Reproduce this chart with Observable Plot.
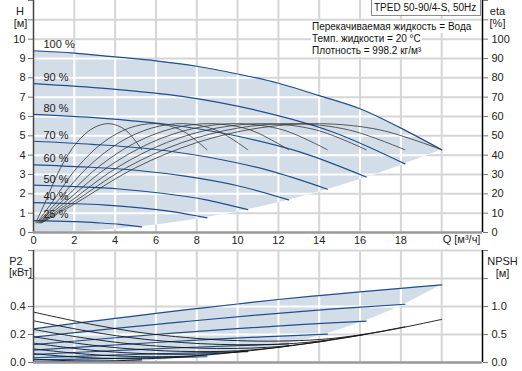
<!DOCTYPE html>
<html><head><meta charset="utf-8">
<script src="https://cdn.jsdelivr.net/npm/d3@7"></script>
<script src="https://cdn.jsdelivr.net/npm/@observablehq/plot@0.6"></script>
<style>
body{margin:0;background:#fff;font-family:'Liberation Sans',Arial,sans-serif;}
#wrap{position:relative;width:522px;height:371px;overflow:hidden;background:#fff}
#top,#bot{position:absolute;left:0;}
#top{top:0}#bot{top:248px}
.box{position:absolute;left:371px;top:-1px;width:110px;height:17px;border:1px solid #8c8c8c;background:#fff;font-size:10px;line-height:16px;color:#111;padding-left:2px;box-sizing:border-box;white-space:nowrap;overflow:hidden}
.info{position:absolute;left:311px;top:21px;font-size:10px;line-height:12px;color:#111}
.info div{background:#fff;display:table;padding:0 1px;white-space:nowrap}
</style></head><body>
<div id="wrap">
<div id="top"></div><div id="bot"></div>
<div class="box">TPED 50-90/4-S, 50Hz</div>
<div class="info"><div>Перекачиваемая жидкость = Вода</div><div>Темп. жидкости = 20 °C</div><div>Плотность = 998.2 кг/м³</div></div>
</div>
<script>
// ---- data ----
const speeds = ["100 %","90 %","80 %","70 %","60 %","50 %","40 %","25 %"];
const qTicks = [0,2,4,6,8,10,12,14,16,18];
const qGrid = [2,4,6,8,10,12,14,16,18,20];
const hTicks = [0,1,2,3,4,5,6,7,8,9,10,11,12];
const hGrid = [1,2,3,4,5,6,7,8,9,10,11];
const pTicks = [0,0.2,0.4,0.6,0.8];
const pGrid = [0.2,0.4,0.6,0.8];

// head curves H [m] per speed
const headQ = [
 [0,2,4,6,8,10,12,14,16,18,20],
 [0,3.64,7.28,10.92,14.56,18.2],
 [0,3.26,6.52,9.78,13.04,16.3],
 [0,2.88,5.76,8.64,11.52,14.4],
 [0,2.5,5,7.5,10,12.5],
 [0,2.1,4.2,6.3,8.4,10.5],
 [0,1.7,3.4,5.1,6.8,8.5],
 [0,1.06,2.12,3.18,4.24,5.3]
];
const headH = [
 [9.4,9.28,9.08,8.88,8.6,8.2,7.72,7.08,6.4,5.4,4.28],
 [7.7,7.44,7.04,6.32,5.24,3.55],
 [6.11,5.92,5.6,5.03,4.17,2.87],
 [4.72,4.56,4.32,3.88,3.21,2.24],
 [3.5,3.39,3.22,2.9,2.42,1.69],
 [2.45,2.37,2.25,2.03,1.7,1.18],
 [1.55,1.5,1.43,1.29,1.08,0.76],
 [0.61,0.59,0.56,0.5,0.42,0.29]
];
// lower limit of the head field (system curve)
const hMinQ = [0,2,4,6,8,10,12,14,16,18,20];
const hMinH = [0,0.04,0.17,0.39,0.69,1.07,1.54,2.1,2.74,3.47,4.28];

// efficiency eta [%] per speed
const etaQ = [
 [0.4,2,5,8,11,14,17,20],
 [0.37,1.82,4.55,7.28,10.01,12.74,15.47,18.2],
 [0.33,1.63,4.08,6.52,8.97,11.41,13.86,16.3],
 [0.29,1.44,3.6,5.76,7.92,10.08,12.24,14.4],
 [0.25,1.25,3.13,5,6.88,8.75,10.63,12.5],
 [0.21,1.05,2.63,4.2,5.78,7.35,8.93,10.5],
 [0.17,0.85,2.13,3.4,4.68,5.95,7.23,8.5],
 [0.11,0.53,1.33,2.12,2.92,3.71,4.51,5.3]
];
const etaV = [5,14.7,33.5,46.5,54,56.3,53,42.8];

// power P2 [kW] per speed
const p2Q = [
 [0,2,4,6,8,10,12,14,16,18,20],
 [0,3.64,7.28,10.92,14.56,18.2],
 [0,3.26,6.52,9.78,13.04,16.3],
 [0,2.88,5.76,8.64,11.52,14.4],
 [0,2.5,5,7.5,10,12.5],
 [0,2.1,4.2,6.3,8.4,10.5],
 [0,1.7,3.4,5.1,6.8,8.5],
 [0,1.06,2.12,3.18,4.24,5.3]
];
const p2P = [
 [0.24,0.279,0.315,0.351,0.385,0.418,0.45,0.478,0.505,0.53,0.554],
 [0.181,0.238,0.29,0.339,0.381,0.416],
 [0.128,0.168,0.206,0.24,0.27,0.296],
 [0.088,0.115,0.141,0.165,0.185,0.203],
 [0.057,0.075,0.092,0.107,0.12,0.132],
 [0.034,0.044,0.054,0.063,0.071,0.078],
 [0.018,0.023,0.028,0.033,0.037,0.041],
 [0.004,0.006,0.007,0.008,0.009,0.01]
];
const p2MinQ = [0,2,4,6,8,10,12,14,16,18,20];
const p2MinP = [0,0.001,0.004,0.015,0.035,0.069,0.12,0.19,0.284,0.404,0.554];

// NPSH [m] per speed
const npQ = [
 [0,3,6,10,14,17,20],
 [0,2.73,5.46,9.1,12.74,15.47,18.2],
 [0,2.45,4.89,8.15,11.41,13.86,16.3],
 [0,2.16,4.32,7.2,10.08,12.24,14.4],
 [0,1.88,3.75,6.25,8.75,10.63,12.5],
 [0,1.58,3.15,5.25,7.35,8.93,10.5],
 [0,1.28,2.55,4.25,5.95,7.23,8.5],
 [0,0.8,1.59,2.65,3.71,4.5,5.3]
];
const npH = [
 [0.9,0.67,0.5,0.39,0.41,0.55,0.77],
 [0.745,0.555,0.414,0.323,0.34,0.455,0.638],
 [0.59,0.44,0.328,0.256,0.269,0.361,0.505],
 [0.46,0.342,0.256,0.199,0.21,0.281,0.393],
 [0.346,0.257,0.192,0.15,0.157,0.211,0.296],
 [0.243,0.181,0.135,0.105,0.111,0.149,0.208],
 [0.159,0.118,0.088,0.069,0.072,0.097,0.136],
 [0.061,0.045,0.034,0.027,0.028,0.037,0.052]
];

// ---- tables ----
const heads = speeds.flatMap((s,i)=>headQ[i].map((q,j)=>({s,q,v:headH[i][j]})));
const etas = speeds.flatMap((s,i)=>etaQ[i].map((q,j)=>({s,q,v:etaV[j]})));
const p2s = speeds.flatMap((s,i)=>p2Q[i].map((q,j)=>({s,q,v:p2P[i][j]})));
const nps = speeds.flatMap((s,i)=>npQ[i].map((q,j)=>({s,q,v:npH[i][j]})));
const labels = speeds.map((s,i)=>({s,q:headQ[i][0],v:headH[i][0]}));
const topArea = hMinQ.map((q,j)=>({q,lo:hMinH[j],hi:headH[0][j]}));
const botArea = p2MinQ.map((q,j)=>({q,lo:p2MinP[j],hi:p2P[0][j]}));

const style = {fontFamily:"'Liberation Sans', Arial, sans-serif", fontSize:"11px", color:"#222", background:"transparent", overflow:"visible"};
const GRID = "#d6d6d6", FILL = "#d3dde8", BLUE = "#1f4f8f";

function clipGrid(svg, id){
  const area = svg.querySelector('g[aria-label="area"] path');
  if(!area) return;
  const ns = "http://www.w3.org/2000/svg";
  const cp = document.createElementNS(ns,"clipPath");
  cp.setAttribute("id", id);
  const p = document.createElementNS(ns,"path");
  p.setAttribute("d", area.getAttribute("d"));
  cp.appendChild(p);
  svg.insertBefore(cp, svg.firstChild);
  svg.querySelectorAll('g[aria-description="clipgrid"]').forEach(g=>g.setAttribute("clip-path",`url(#${id})`));
}
const lab = (t, anchor, dx, dy) => Plot.text([t],{text:d=>d,frameAnchor:anchor,textAnchor:"middle",dx,dy,fill:"#222"});

const topPlot = Plot.plot({
  width:522, height:250, marginLeft:33, marginRight:40, marginTop:0, marginBottom:18,
  x:{domain:[0,22]}, y:{domain:[0,12]}, style,
  marks:[
    Plot.ruleX(qGrid,{stroke:GRID,strokeWidth:2}),
    Plot.ruleY(hGrid,{stroke:GRID,strokeWidth:2}),
    Plot.areaY(topArea,{x:"q",y1:"lo",y2:"hi",fill:FILL,curve:"catmull-rom"}),
    Plot.ruleX(qGrid,{stroke:"#fff",strokeWidth:2,ariaDescription:"clipgrid"}),
    Plot.ruleY(hGrid,{stroke:"#fff",strokeWidth:2,ariaDescription:"clipgrid"}),
    Plot.line(heads,{x:"q",y:"v",z:"s",stroke:BLUE,strokeWidth:1.2,curve:"catmull-rom"}),
    Plot.line(etas,{x:"q",y:d=>d.v/10,z:"s",stroke:"#333",strokeWidth:0.8,curve:"catmull-rom"}),
    Plot.text(labels,{x:"q",y:"v",text:"s",textAnchor:"start",dx:10,dy:-6,fill:"#222"}),
    Plot.ruleX([0],{stroke:"#444",strokeWidth:1.5}),
    Plot.ruleX([22],{stroke:"#000",strokeWidth:1.5}),
    Plot.ruleY([0],{stroke:"#999",strokeWidth:2.5}),
    Plot.axisY(hTicks,{anchor:"left",tickSize:5,tickPadding:3,tickFormat:d=>d<=10?d:"",label:null,stroke:"#777",fill:"#222"}),
    Plot.axisY(hTicks,{anchor:"right",tickSize:5,tickPadding:4,tickFormat:d=>d<=10?d*10:"",label:null,stroke:"#777",fill:"#222"}),
    Plot.axisX(qTicks,{anchor:"bottom",tickSize:0,tickPadding:4,label:null,fill:"#222"}),
    Plot.text([{q:20,t:"Q [м³/ч]"}],{x:"q",text:"t",frameAnchor:"bottom",textAnchor:"start",dx:1,dy:10,fill:"#222"}),
    lab("H","top-left",-13.5,7),
    lab("[м]","top-left",-13,19),
    lab("eta","top-right",15,7),
    lab("[%]","top-right",15,19)
  ]
});
clipGrid(topPlot,"clipTop");
document.getElementById("top").appendChild(topPlot);

const botPlot = Plot.plot({
  width:522, height:132, marginLeft:33, marginRight:40, marginTop:2, marginBottom:18,
  x:{domain:[0,22], axis:null}, y:{domain:[0,0.8]}, style,
  marks:[
    Plot.ruleX(qGrid,{stroke:GRID,strokeWidth:2}),
    Plot.ruleY(pGrid,{stroke:GRID,strokeWidth:2}),
    Plot.areaY(botArea,{x:"q",y1:"lo",y2:"hi",fill:FILL,curve:"catmull-rom"}),
    Plot.ruleX(qGrid,{stroke:"#fff",strokeWidth:2,ariaDescription:"clipgrid"}),
    Plot.ruleY(pGrid,{stroke:"#fff",strokeWidth:2,ariaDescription:"clipgrid"}),
    Plot.line(p2s,{x:"q",y:"v",z:"s",stroke:BLUE,strokeWidth:1.2,curve:"catmull-rom"}),
    Plot.line(nps,{x:"q",y:d=>d.v/2.5,z:"s",stroke:"#111",strokeWidth:0.9,curve:"catmull-rom"}),
    Plot.ruleX([0],{stroke:"#444",strokeWidth:1.5}),
    Plot.ruleX([22],{stroke:"#000",strokeWidth:1.5}),
    Plot.ruleY([0],{stroke:"#999",strokeWidth:2.5}),
    Plot.axisY(pTicks,{anchor:"left",tickSize:5,tickPadding:3,tickFormat:d=>d<=0.4?d.toFixed(1):"",label:null,stroke:"#777",fill:"#222"}),
    Plot.axisY(pTicks,{anchor:"right",tickSize:5,tickPadding:4,tickFormat:d=>d<=0.4?(d*2.5).toFixed(1):"",label:null,stroke:"#777",fill:"#222"}),
    lab("P2","top-left",-17.5,7),
    lab("[кВт]","top-left",-13,18),
    lab("NPSH","top-right",20,7),
    lab("[м]","top-right",20,19)
  ]
});
clipGrid(botPlot,"clipBot");
document.getElementById("bot").appendChild(botPlot);
</script>
</body></html>
